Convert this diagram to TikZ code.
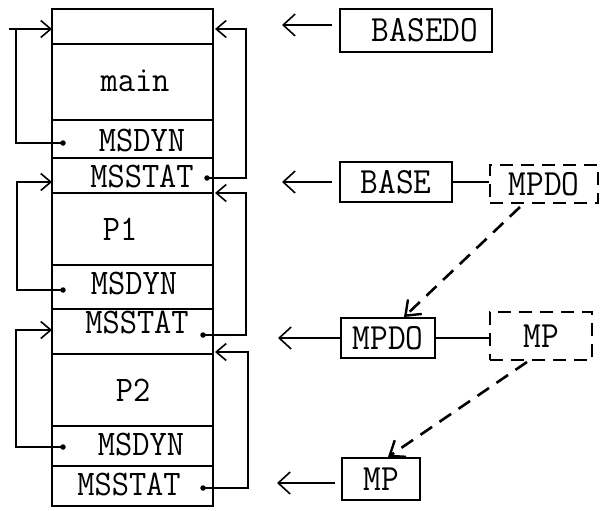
\documentclass[tikz,border=0pt]{standalone}
\usepackage{fontspec}
\newfontfamily\tw[FakeStretch=0.93]{Latin Modern Mono}
\usetikzlibrary{arrows.meta}
\begin{document}
\begin{tikzpicture}[x=1pt,y=-1pt,
  cell/.style={draw,line width=2pt,minimum width=161pt,inner sep=0pt,anchor=north},
  lbl/.style={font=\tw\fontsize{36}{36}\selectfont,inner sep=0pt,text height=22pt,text depth=0pt},
  box/.style={draw,line width=2pt,inner sep=0pt,font=\tw\fontsize{37}{37}\selectfont,text height=22pt,text depth=0pt},
  dbox/.style={box,dash pattern=on 13pt off 8pt},
  conn/.style={line width=1.6pt,-{Straight Barb[length=10pt,width=17pt,line width=1.6pt]}},
  plain/.style={line width=1.5pt},
  big/.style={line width=1.5pt,-{Straight Barb[length=12pt,width=22pt,line width=1.6pt]}},
  dasharrow/.style={line width=2.6pt,dash pattern=on 14pt off 9pt,-{Straight Barb[length=13pt,width=20pt,line width=2.4pt]}},
  dot/.style={circle,fill,inner sep=0pt,minimum size=5.5pt}]
\useasboundingbox (0,0) rectangle (602,511);
% column
\node[cell,minimum height=35pt] (c0) at (132.5,8) {};
\node[cell,minimum height=76pt] (c1) at (132.5,43) {};
\node[cell,minimum height=38pt] (c2) at (132.5,119) {};
\node[cell,minimum height=35pt] (c3) at (132.5,157) {};
\node[cell,minimum height=72pt] (c4) at (132.5,192) {};
\node[cell,minimum height=44pt] (c5) at (132.5,264) {};
\node[cell,minimum height=45pt] (c6) at (132.5,308) {};
\node[cell,minimum height=72pt] (c7) at (132.5,353) {};
\node[cell,minimum height=40pt] (c8) at (132.5,425) {};
\node[cell,minimum height=40pt] (c9) at (132.5,465) {};
% labels
\node[lbl] (tmain) at (135,80) {main};
\node[lbl] (tdyn1) at (142,140) {MSDYN};
\node[lbl] (tstat1) at (142,176) {MSSTAT};
\node[lbl] (tp1) at (120,229) {P1};
\node[lbl] (tdyn2) at (134,283) {MSDYN};
\node[lbl] (tstat2) at (137,322) {MSSTAT};
\node[lbl] (tp2) at (133,390) {P2};
\node[lbl] (tdyn3) at (141,444) {MSDYN};
\node[lbl] (tstat3) at (129,484) {MSSTAT};
% dots
\node[dot] (dl1) at (63,143) {};
\node[dot] (dl2) at (63,290) {};
\node[dot] (dl3) at (63,447) {};
\node[dot] (dr1) at (207,178) {};
\node[dot] (dr2) at (203,335) {};
\node[dot] (dr3) at (203,488) {};
% arrow targets
\coordinate (al1) at (52,29);
\coordinate (al2) at (52,182);
\coordinate (al3) at (52,330);
\coordinate (ar1) at (215,29);
\coordinate (ar2) at (215,193);
\coordinate (ar3) at (215,352);
% left loops
\draw[conn] (dl1.center) -- (16,143) -- (16,29) -- (al1);
\draw[plain] (9,29) -- (16,29);
\draw[conn] (dl2.center) -- (17,290) -- (17,182) -- (al2);
\draw[conn] (dl3.center) -- (16,447) -- (16,330) -- (al3);
% right loops
\draw[conn] (dr1.center) -- (246,178) -- (246,29) -- (ar1);
\draw[conn] (dr2.center) -- (246,335) -- (246,193) -- (ar2);
\draw[conn] (dr3.center) -- (248,488) -- (248,352) -- (ar3);
% right boxes
\node[box,minimum width=152pt,minimum height=43pt] (basedo) at (416,30.5) {\hspace*{18pt}BASEDO};
\node[box,minimum width=112pt,minimum height=40pt] (base) at (396,182) {BASE};
\node[dbox,minimum width=108pt,minimum height=38pt] (mpdod) at (544,184) {MPDO};
\node[box,minimum width=94pt,minimum height=40pt] (mpdo) at (388,338) {MPDO};
\node[dbox,minimum width=102pt,minimum height=48pt] (mpd) at (541,336) {MP};
\node[box,minimum width=78pt,minimum height=42pt] (mp) at (381,479) {MP};
% big arrows
\coordinate (b1s) at (332,25);  \coordinate (b1e) at (282,25);
\coordinate (b2s) at (332,182); \coordinate (b2e) at (282,182);
\coordinate (b3e) at (278,338);
\coordinate (b4s) at (335,483); \coordinate (b4e) at (277,483);
\draw[big] (b1s) -- (b1e);
\draw[big] (b2s) -- (b2e);
\draw[big] (mpdo.west) -- (b3e);
\draw[big] (b4s) -- (b4e);
% links
\draw[plain] (base.east) -- (mpdod.west |- base.east);
\draw[plain] (mpdo.east) -- (mpd.west |- mpdo.east);
% dashed arrows
\coordinate (s1) at (520,207); \coordinate (e1) at (404,316);
\coordinate (s2) at (527,362); \coordinate (e2) at (388,457);
\draw[dasharrow] (s1) -- (mpdo.north -| e1);
\draw[dasharrow] (s2) -- (mp.north -| e2);
\end{tikzpicture}
\end{document}
